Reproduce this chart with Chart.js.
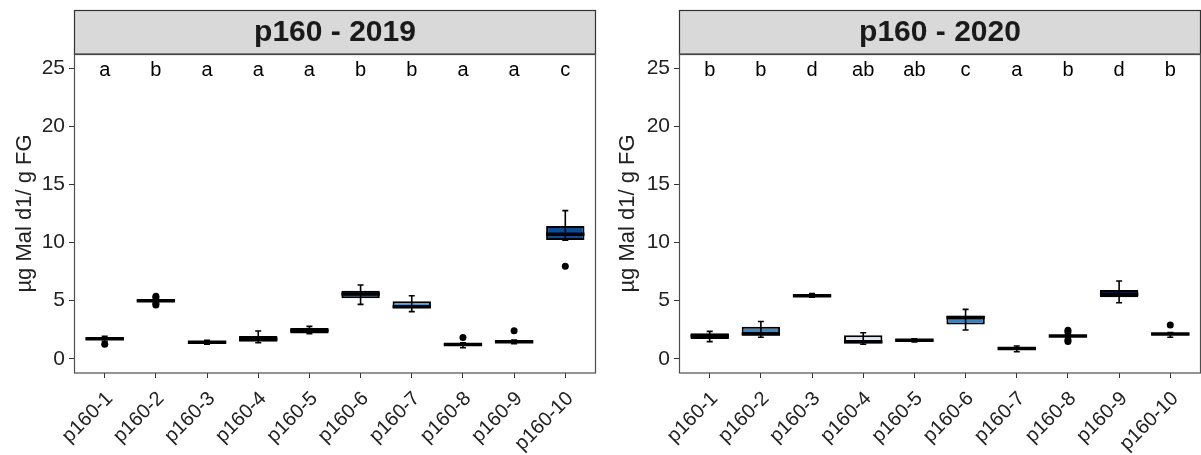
<!DOCTYPE html>
<html>
<head>
<meta charset="utf-8">
<script src="https://cdn.jsdelivr.net/npm/chart.js@4/dist/chart.umd.min.js"></script>
<style>
  html, body { margin: 0; padding: 0; background: #fff; overflow: hidden; width: 1201px; height: 455px; }
  canvas { position: absolute; top: 0; }
  #c2019 { left: 0; }
  #c2020 { left: 600px; }
</style>
</head>
<body>
<canvas id="c2019" width="600" height="455"></canvas>
<canvas id="c2020" width="605" height="455"></canvas>
<script>
// categories and axis
const categories = ['p160-1', 'p160-2', 'p160-3', 'p160-4', 'p160-5', 'p160-6', 'p160-7', 'p160-8', 'p160-9', 'p160-10'];
const yTicks = [0, 5, 10, 15, 20, 25];
const letterLevel = 25;

// 2019 box stats
const low2019  = [1.50, 4.90, 1.25, 1.38, 2.15, 4.68, 4.05, 0.95, 1.30, 10.20];
const q1_2019  = [1.62, 4.95, 1.35, 1.45, 2.18, 5.20, 4.35, 1.15, 1.40, 10.22];
const med2019  = [1.72, 5.00, 1.42, 1.67, 2.42, 5.57, 4.47, 1.22, 1.47, 10.71];
const q3_2019  = [1.80, 5.08, 1.48, 1.95, 2.65, 5.85, 4.95, 1.30, 1.55, 11.42];
const high2019 = [1.93, 5.15, 1.58, 2.38, 2.78, 6.34, 5.42, 1.38, 1.60, 12.75];
const out2019  = [[1.25], [5.38, 5.25, 4.62, 4.75], [], [], [], [], [], [1.82], [2.40], [7.95]];
const letters2019 = ['a', 'b', 'a', 'a', 'a', 'b', 'b', 'a', 'a', 'c'];
const fill2019 = ['#7fb9dd', '#2b7bba', '#9ecae1', '#79b2dc', '#5fa0d3', '#1d5fa8', '#4b97d0', '#9ecae1', '#8ec0df', '#0b4b95'];

// 2020 box stats
const low2020  = [1.47, 1.85, 5.30, 1.25, 1.45, 2.47, 0.60, 1.85, 4.82, 1.85];
const q1_2020  = [1.70, 1.98, 5.35, 1.32, 1.50, 2.95, 0.80, 1.90, 5.28, 2.05];
const med2020  = [1.95, 2.15, 5.42, 1.45, 1.58, 3.55, 0.88, 1.95, 5.55, 2.12];
const q3_2020  = [2.20, 2.75, 5.48, 2.02, 1.68, 3.70, 0.98, 2.02, 5.91, 2.20];
const high2020 = [2.35, 3.20, 5.60, 2.24, 1.72, 4.25, 1.10, 2.10, 6.69, 2.25];
const out2020  = [[], [], [], [], [], [], [], [2.45, 2.30, 1.60, 1.48], [], [2.90]];
const letters2020 = ['b', 'b', 'd', 'ab', 'ab', 'c', 'a', 'b', 'd', 'b'];
const fill2020 = ['#5a9fd3', '#3a8ac9', '#0d3f82', '#dbe8f5', '#c6dbef', '#3584c6', '#eef5fb', '#6aaed6', '#0a2f6b', '#6aaed6'];

const FONT = "'Liberation Sans', Arial, sans-serif";

// strip, whiskers, medians, letters, panel border
const panelPlugin = {
  id: 'panelDecor',
  beforeDraw(chart) {
    const { ctx, chartArea: a } = chart;
    const o = chart.options.plugins.panelDecor;
    ctx.save();
    ctx.fillStyle = '#d9d9d9';
    ctx.fillRect(a.left, 10, a.right - a.left, a.top - 10);
    ctx.strokeStyle = '#333';
    ctx.lineWidth = 1.2;
    ctx.strokeRect(a.left + 0.5, 10.5, a.right - a.left - 1, a.top - 10);
    ctx.fillStyle = '#1a1a1a';
    ctx.font = 'bold 30px ' + FONT;
    ctx.textAlign = 'center';
    ctx.textBaseline = 'middle';
    ctx.fillText(o.title, (a.left + a.right) / 2, (10 + a.top) / 2 + 1);
    ctx.restore();
  },
  afterDatasetsDraw(chart) {
    const { ctx, chartArea: a, scales: { x, y } } = chart;
    const o = chart.options.plugins.panelDecor;
    const bars = chart.getDatasetMeta(0).data;
    ctx.save();
    ctx.strokeStyle = '#000';
    categories.forEach((c, i) => {
      const px = x.getPixelForValue(i);
      const half = bars[i].width / 2;
      const yl = y.getPixelForValue(o.low[i]);
      const yh = y.getPixelForValue(o.high[i]);
      ctx.lineWidth = 1.6;
      ctx.beginPath();
      ctx.moveTo(px, yl); ctx.lineTo(px, yh);
      ctx.moveTo(px - 3, yl); ctx.lineTo(px + 3, yl);
      ctx.moveTo(px - 3, yh); ctx.lineTo(px + 3, yh);
      ctx.stroke();
      const ym = y.getPixelForValue(o.med[i]);
      ctx.lineWidth = 3.5;
      ctx.beginPath();
      ctx.moveTo(px - half, ym); ctx.lineTo(px + half, ym);
      ctx.stroke();
    });
    ctx.fillStyle = '#000';
    ctx.font = '20px ' + FONT;
    ctx.textAlign = 'center';
    ctx.textBaseline = 'alphabetic';
    const ly = y.getPixelForValue(letterLevel);
    o.letters.forEach((t, i) => ctx.fillText(t, x.getPixelForValue(i), ly + 8));
    ctx.strokeStyle = '#4d4d4d';
    ctx.lineWidth = 1.2;
    ctx.strokeRect(a.left + 0.5, a.top, a.right - a.left - 1, a.bottom - a.top);
    ctx.restore();
  }
};

function makeChart(id, title, low, q1, med, q3, high, outs, letters, fills, padLeft, axisWidth) {
  const outPts = [];
  outs.forEach((vals, i) => vals.forEach(v => outPts.push({ x: i, y: v })));
  return new Chart(document.getElementById(id), {
    type: 'bar',
    data: {
      datasets: [{
        data: categories.map((c, i) => ({ x: i, y: [q1[i], q3[i]] })),
        backgroundColor: fills,
        borderColor: '#000',
        borderWidth: 2,
        borderSkipped: false,
        barPercentage: 0.75,
        categoryPercentage: 1,
        order: 1
      }, {
        type: 'scatter',
        data: outPts,
        pointRadius: 3.5,
        pointBackgroundColor: '#000',
        pointBorderWidth: 0,
        order: 0
      }]
    },
    options: {
      responsive: false,
      animation: false,
      events: [],
      layout: { padding: { left: padLeft, right: 1, top: 54, bottom: 0 } },
      plugins: {
        legend: { display: false },
        tooltip: { enabled: false },
        panelDecor: { title, low, med, high, letters }
      },
      scales: {
        x: {
          type: 'linear',
          offset: false,
          min: -0.6,
          max: 9.6,
          afterBuildTicks: s => { s.ticks = categories.map((c, i) => ({ value: i })); },
          afterFit: s => { s.height = 82; },
          grid: { offset: false, drawOnChartArea: false, tickLength: 5, tickColor: '#333' },
          border: { display: false },
          ticks: {
            autoSkip: false,
            minRotation: 45,
            maxRotation: 45,
            padding: 9,
            labelOffset: 5,
            color: '#222',
            font: { family: FONT, size: 20 },
            callback: v => categories[v]
          }
        },
        y: {
          min: -1.23,
          max: 26.23,
          afterBuildTicks: s => { s.ticks = yTicks.map(v => ({ value: v })); },
          afterFit: s => { s.width = axisWidth; },
          grid: { drawOnChartArea: false, tickLength: 5, tickColor: '#333' },
          border: { display: false },
          ticks: { color: '#222', padding: 4, font: { family: FONT, size: 21 } },
          title: { display: true, text: 'µg Mal d1/ g FG', color: '#222', font: { family: FONT, size: 22 } }
        }
      }
    },
    plugins: [panelPlugin]
  });
}

makeChart('c2019', 'p160 - 2019', low2019, q1_2019, med2019, q3_2019, high2019, out2019, letters2019, fill2019, 8, 66);
makeChart('c2020', 'p160 - 2020', low2020, q1_2020, med2020, q3_2020, high2020, out2020, letters2020, fill2020, 11, 68);
</script>
</body>
</html>
